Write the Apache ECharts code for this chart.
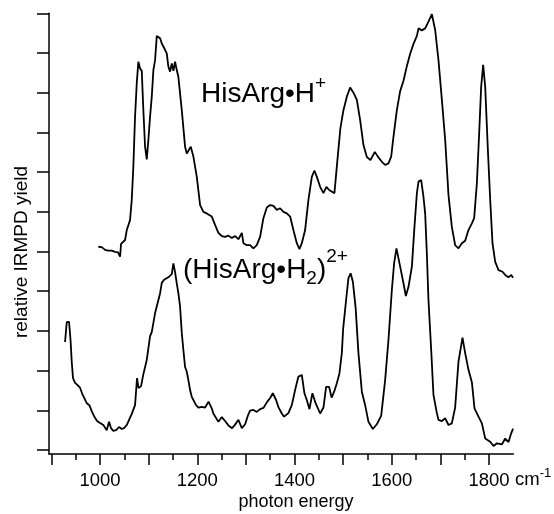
<!DOCTYPE html>
<html>
<head>
<meta charset="utf-8">
<script src="https://cdn.jsdelivr.net/npm/echarts@6/dist/echarts.min.js"></script>
<style>
  html, body { margin: 0; padding: 0; background: #fff; }
  #chart { width: 554px; height: 514px; }
</style>
</head>
<body>
<div id="chart"></div>
<script>
// HisArg•H+ spectrum (upper trace, offset)
var hisArgH_wn = [996.5, 1003.5, 1010.3, 1016.5, 1024, 1030.9, 1037, 1041.2, 1043.2, 1047.3,
    1051.4, 1055, 1058.2, 1061.7, 1065.2, 1068.5, 1072, 1075.5, 1078.8, 1082.3,
    1085.8, 1089.1, 1092.6, 1096.1, 1099.4, 1102.9, 1106.4, 1109.7, 1113.2, 1116.7,
    1120, 1123.5, 1127, 1132.1, 1137.2, 1140.5, 1144, 1147.5, 1150.8, 1154.3,
    1157.8, 1161.1, 1168.1, 1174.9, 1178.4, 1181.7, 1186.6, 1192, 1199, 1205.8,
    1212.6, 1219.5, 1229.8, 1236.6, 1243.4, 1250.4, 1257.2, 1264, 1271, 1277.8,
    1284.6, 1291.6, 1294.9, 1301.9, 1308.6, 1315.4, 1322.4, 1329.2, 1336, 1343,
    1349.8, 1356.6, 1363.6, 1370.4, 1377.2, 1384.2, 1391, 1397.7, 1404.7, 1410.1,
    1415, 1421.8, 1428.6, 1435.6, 1440.9, 1445.9, 1452.7, 1459.5, 1465.6, 1471.2,
    1482.1, 1487, 1494.4, 1500.6, 1507.6, 1514.4, 1521.2, 1528.2, 1535, 1541.8,
    1548.8, 1556.2, 1560.3, 1565.2, 1571.4, 1579.6, 1586.4, 1593.2, 1598.8, 1603.5,
    1610.5, 1617.3, 1624.1, 1631.1, 1637.9, 1644.7, 1651.7, 1655, 1658.4, 1661.9,
    1668.7, 1675.5, 1682.5, 1689.3, 1696.1, 1703.1, 1709.9, 1716.7, 1723.6, 1730.4,
    1737.2, 1744.2, 1751, 1757.8, 1764.8, 1769.5, 1775.1, 1779.8, 1783.9, 1788,
    1792.2, 1797.7, 1802.5, 1807.2, 1812.8, 1819.6, 1827.8, 1833.3, 1840.1, 1845.7,
    1849.5];
var hisArgH_yield = [5.12, 5.11, 5.04, 5.02, 5.02, 4.99, 4.98, 4.87, 5.19, 5.22,
    5.29, 5.54, 5.56, 5.79, 6.30, 7.14, 8.40, 9.24, 9.78, 9.61,
    9.55, 8.56, 7.64, 7.32, 7.81, 8.40, 8.90, 9.57, 9.82, 10.43,
    10.45, 10.37, 10.24, 10.12, 9.99, 9.66, 9.53, 9.74, 9.55, 9.78,
    9.57, 9.40, 8.56, 7.64, 7.47, 7.43, 7.64, 7.39, 6.88, 6.17,
    6.00, 5.96, 5.88, 5.67, 5.47, 5.39, 5.37, 5.40, 5.34, 5.39,
    5.31, 5.47, 5.21, 5.16, 5.16, 5.08, 5.16, 5.37, 5.84, 6.11,
    6.17, 6.15, 6.05, 6.09, 6.00, 5.96, 5.88, 5.54, 5.21, 5.06,
    5.21, 5.54, 6.30, 6.88, 7.04, 6.88, 6.63, 6.47, 6.63, 6.55,
    6.47, 7.14, 8.11, 8.56, 8.90, 9.13, 9.00, 8.82, 8.31, 7.68,
    7.38, 7.30, 7.26, 7.51, 7.39, 7.26, 7.18, 7.22, 7.39, 7.89,
    8.56, 9.04, 9.30, 9.67, 9.98, 10.23, 10.43, 10.62, 10.58, 10.57,
    10.62, 10.79, 10.98, 10.58, 9.82, 8.82, 7.81, 6.42, 5.62, 5.16,
    5.08, 5.21, 5.27, 5.54, 5.71, 5.84, 6.72, 7.98, 9.15, 9.70,
    9.15, 7.56, 6.30, 5.21, 4.74, 4.53, 4.49, 4.41, 4.35, 4.41,
    4.34];

// (HisArg•H2)2+ spectrum (lower trace)
var hisArgH2_wn = [928, 931.5, 936.2, 939.3, 941.8, 944.4, 948.6, 953.3, 958.8, 963.6,
    967.7, 972.6, 978, 983.5, 988.7, 993.8, 1000, 1006.8, 1013.8, 1018.5,
    1022.6, 1027.4, 1032.9, 1039.1, 1044.6, 1049.4, 1054.9, 1058.2, 1065.2, 1072,
    1076.1, 1079.2, 1084.4, 1089.1, 1096.1, 1102.9, 1106.4, 1113.2, 1120, 1123.5,
    1127, 1131.7, 1140.5, 1147.5, 1150.8, 1154.3, 1157.8, 1161.1, 1164.6, 1168.1,
    1171.4, 1174.9, 1178.4, 1181.7, 1185.2, 1188.7, 1192, 1197.5, 1202.3, 1209.3,
    1216, 1223.2, 1229.8, 1233.1, 1236.6, 1243.4, 1250.4, 1257.2, 1264, 1271.6,
    1277.8, 1284.6, 1291.6, 1298.4, 1304.5, 1308.6, 1315.4, 1322.4, 1325.7, 1329.2,
    1336, 1343, 1349.8, 1355.4, 1362.1, 1366.9, 1373.9, 1378.6, 1387.4, 1394.4,
    1401.2, 1408, 1415, 1420.4, 1425.3, 1430.7, 1436.8, 1443.4, 1452.7, 1459.5,
    1465, 1471.2, 1476.3, 1481.5, 1487, 1492.4, 1497.3, 1500, 1506.8, 1510.9,
    1515.4, 1520, 1525.7, 1531.5, 1538.5, 1545.3, 1552.1, 1561.1, 1569.3, 1578.2,
    1586.4, 1593.2, 1600.2, 1604.9, 1609.7, 1617.3, 1624.1, 1629, 1634.4, 1641.4,
    1646.7, 1651.7, 1655, 1660.5, 1665.2, 1668.7, 1672.2, 1675.5, 1681.1, 1685.8,
    1692.8, 1696.1, 1703.1, 1709.9, 1716.7, 1723.6, 1730.4, 1737.2, 1745.5, 1751,
    1757.8, 1764.8, 1770.2, 1778.4, 1785.4, 1792.2, 1802.5, 1809.3, 1816.3, 1826.5,
    1833.3, 1840.1, 1845.7, 1849.5];
var hisArgH2_yield = [2.72, 3.22, 3.23, 2.77, 2.22, 1.81, 1.69, 1.64, 1.57, 1.41,
    1.41, 1.18, 1.13, 0.96, 0.83, 0.73, 0.68, 0.63, 0.50, 0.71,
    0.55, 0.48, 0.50, 0.58, 0.53, 0.55, 0.63, 0.66, 0.91, 1.13,
    1.81, 1.56, 1.61, 1.91, 2.27, 2.87, 2.97, 3.45, 3.78, 3.95,
    4.21, 4.29, 4.35, 4.43, 4.70, 4.48, 4.20, 3.95, 3.61, 2.95,
    2.52, 2.09, 1.97, 1.76, 1.51, 1.34, 1.31, 1.13, 1.07, 1.09,
    1.07, 1.22, 1.05, 0.92, 0.88, 0.71, 0.83, 0.73, 0.62, 0.55,
    0.64, 0.76, 0.55, 0.65, 0.88, 0.99, 1.01, 0.96, 0.91, 1.03,
    1.06, 1.20, 1.31, 1.43, 1.26, 1.08, 0.92, 0.84, 0.93, 1.13,
    1.51, 1.85, 1.89, 1.43, 1.26, 1.03, 1.43, 1.18, 0.92, 1.07,
    1.59, 1.59, 1.32, 1.47, 1.68, 1.93, 2.44, 3.05, 3.86, 4.33,
    4.45, 4.24, 3.58, 2.44, 1.47, 1.13, 0.71, 0.53, 0.65, 0.86,
    1.76, 2.77, 4.03, 4.71, 5.08, 4.62, 4.20, 3.88, 4.11, 4.62,
    5.62, 6.47, 6.76, 6.80, 6.38, 5.96, 4.95, 3.78, 2.52, 1.39,
    0.93, 0.76, 0.73, 0.80, 0.63, 0.67, 1.07, 2.22, 2.83, 2.44,
    2.02, 1.71, 1.05, 0.84, 0.67, 0.29, 0.21, 0.10, 0.17, 0.14,
    0.29, 0.20, 0.42, 0.54];

// axis ticks and labels
var xMajorTicks = [900, 1000, 1100, 1200, 1300, 1400, 1500, 1600, 1700, 1800];
var xMinorTicks = [950, 1050, 1150, 1250, 1350, 1450, 1550, 1650, 1750];
var xLabels = [1000, 1200, 1400, 1600, 1800];
var yTicks = [0, 1, 2, 3, 4, 5, 6, 7, 8, 9, 10, 11];

function pairs(xs, ys) {
    var out = [];
    for (var i = 0; i < xs.length; i++) out.push([xs[i], ys[i]]);
    return out;
}

var fontFam = '"Liberation Sans", Arial, sans-serif';
var chart = echarts.init(document.getElementById('chart'));

var option = {
    animation: false,
    backgroundColor: '#fff',
    grid: {
        left: 49, right: 40.7, top: 13.3, bottom: 60,
        containLabel: false, outerBoundsMode: 'none'
    },
    xAxis: [{
        type: 'value',
        min: 895, max: 1850,
        position: 'bottom',
        splitLine: { show: false },
        axisLine: { onZero: false, lineStyle: { color: '#000', width: 1.5 } },
        axisTick: { customValues: xMajorTicks, length: 11, lineStyle: { color: '#000', width: 1.5 } },
        axisLabel: {
            customValues: xLabels, color: '#000', fontSize: 18.5, fontFamily: fontFam, margin: 17,
            formatter: function (v) { return String(v); }
        }
    }, {
        type: 'value',
        min: 895, max: 1850,
        position: 'bottom',
        splitLine: { show: false },
        axisLine: { show: false, onZero: false },
        axisTick: { customValues: xMinorTicks, length: 6, lineStyle: { color: '#000', width: 1.5 } },
        axisLabel: { show: false }
    }],
    yAxis: {
        type: 'value',
        min: -0.1, max: 11,
        splitLine: { show: false },
        axisLine: { show: true, onZero: false, lineStyle: { color: '#000', width: 1.5 } },
        axisTick: { show: true, customValues: yTicks, length: 12, lineStyle: { color: '#000', width: 1.5 } },
        axisLabel: { show: false }
    },
    series: [{
        name: 'HisArg•H+',
        type: 'line',
        xAxisIndex: 0,
        showSymbol: false,
        data: pairs(hisArgH_wn, hisArgH_yield),
        lineStyle: { color: '#000', width: 1.8 }
    }, {
        name: '(HisArg•H2)2+',
        type: 'line',
        xAxisIndex: 0,
        showSymbol: false,
        data: pairs(hisArgH2_wn, hisArgH2_yield),
        lineStyle: { color: '#000', width: 1.8 }
    }],
    graphic: [{
        type: 'text',
        x: 201, y: 94.7,
        style: {
            text: '{m|HisArg•H}{sup|+}',
            align: 'left', verticalAlign: 'middle',
            rich: {
                m: { fontSize: 28, fontFamily: fontFam, fill: '#000', height: 44, verticalAlign: 'middle' },
                sup: { fontSize: 19, fontFamily: fontFam, fill: '#000', height: 22, verticalAlign: 'top' }
            }
        }
    }, {
        type: 'text',
        x: 183, y: 270.5,
        style: {
            text: '{m|(HisArg•H}{sub|2}{m|)}{sup|2+}',
            align: 'left', verticalAlign: 'middle',
            rich: {
                m: { fontSize: 28, fontFamily: fontFam, fill: '#000', height: 44, verticalAlign: 'middle' },
                sub: { fontSize: 19, fontFamily: fontFam, fill: '#000', height: 27, verticalAlign: 'bottom' },
                sup: { fontSize: 19, fontFamily: fontFam, fill: '#000', height: 16, verticalAlign: 'top' }
            }
        }
    }, {
        type: 'text',
        x: 515, y: 480,
        style: {
            text: '{m|cm}{sup|-1}',
            align: 'left', verticalAlign: 'middle',
            rich: {
                m: { fontSize: 18.5, fontFamily: fontFam, fill: '#000', height: 30, verticalAlign: 'middle' },
                sup: { fontSize: 13, fontFamily: fontFam, fill: '#000', height: 16, verticalAlign: 'top' }
            }
        }
    }, {
        type: 'text',
        x: 296, y: 502,
        style: {
            text: 'photon energy', fontSize: 18, fontFamily: fontFam, fill: '#000',
            align: 'center', verticalAlign: 'middle'
        }
    }, {
        type: 'text',
        x: 22, y: 252,
        rotation: Math.PI / 2,
        style: {
            text: 'relative IRMPD yield', fontSize: 19, fontFamily: fontFam, fill: '#000',
            align: 'center', verticalAlign: 'middle'
        }
    }]
};
chart.setOption(option);
</script>
</body>
</html>
